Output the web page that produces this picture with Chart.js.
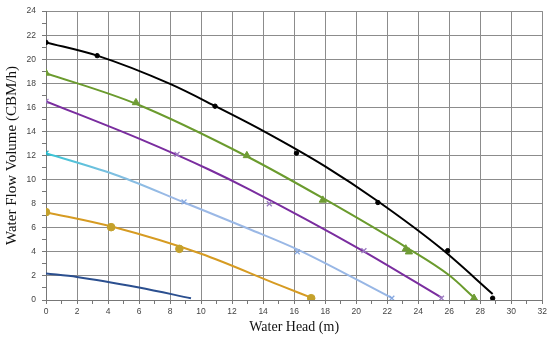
<!DOCTYPE html>
<html>
<head>
<meta charset="utf-8">
<script src="https://cdn.jsdelivr.net/npm/chart.js@4/dist/chart.umd.min.js"></script>
<style>
  html, body { margin: 0; padding: 0; background: #fff; }
  #wrap { width: 550px; height: 339px; }
</style>
</head>
<body>
<div id="wrap"><canvas id="c" width="550" height="339"></canvas></div>
<script>
// ---- Data (x = water head m, y = flow CBM/h) ----
const curveBlack  = [[0,21.4],[3.3,20.3],[8,17.95],[11,16.05],[14,14.05],[18,11.1],[21.4,8.2],[25.5,4.25],[28.8,0.5]];
const curveGreen  = [[0,18.85],[5.8,16.3],[13,11.9],[18,8.35],[23.2,4.4],[26,2.05],[27.6,0.2]];
const curvePurple = [[0,16.5],[6,13.4],[10.5,10.84],[13.1,9.19],[20.2,4.25],[25.5,0.2]];
const curveCyan   = [[0,12.2],[4.7,10.3],[8.9,8.1],[13.1,5.9],[16.3,4.15],[22.25,0.2]];
const curveOrange = [[0,7.3],[4.23,6.1],[10,3.84],[15.05,1.23],[17.1,0.2]];
const curveNavy   = [[0,2.2],[2,1.92],[6,1.04],[9.35,0.14]];

const markBlack  = [[0,21.4],[3.3,20.3],[10.9,16.1],[16.15,12.2],[21.4,8.1],[25.9,4.1],[28.8,0.15]];
const markGreen  = [[0,18.85],[5.8,16.4],[12.95,12.0],[17.85,8.3],[23.2,4.25],[23.4,4.0],[27.6,0.15]];
const markPurple = [[0,16.5],[8.45,12.1],[14.4,8.0],[20.5,4.1],[25.5,0.15]];
const markCyan   = [[0,12.2],[8.9,8.15],[16.2,4.0],[22.3,0.15]];
const markOrange = [[0,7.3],[4.2,6.05],[8.6,4.25],[17.1,0.15]];

const xTicks = { min: 0, max: 32, major: 2 };
const yTicks = { min: 0, max: 24, major: 2 };
const xTitle = 'Water Head (m)';
const yTitle = 'Water Flow Volume (CBM/h)';

const toXY = arr => arr.map(p => ({ x: p[0], y: p[1] }));

function curve(data, color, width) {
  return { data: toXY(data), showLine: true, borderColor: color, borderWidth: width || 2,
           pointRadius: 0, pointHoverRadius: 0, fill: false, cubicInterpolationMode: 'monotone', order: 2 };
}
function marks(data, style, color, radius, bw) {
  return { data: toXY(data), showLine: false, pointStyle: style, pointRadius: radius,
           pointBackgroundColor: color, pointBorderColor: color, pointBorderWidth: bw || 1, order: 1 };
}

function cyanGradient(ctx) {
  const chart = ctx.chart; const area = chart.chartArea;
  if (!area) return '#7fb8e0';
  const g = chart.ctx.createLinearGradient(area.left, 0, area.right, 0);
  g.addColorStop(0, '#35c4d4');
  g.addColorStop(0.12, '#78c0e0');
  g.addColorStop(0.25, '#9cb9e6');
  g.addColorStop(1, '#93b4e4');
  return g;
}

const gridCol = '#8c8c8c';
function axis(cfg, title, isX) {
  return {
    type: 'linear', min: cfg.min, max: cfg.max,
    afterFit: s => { if (isX) s.height = 39; else s.width = 46; },
    ticks: { stepSize: 1, autoSkip: false, maxRotation: 0, padding: isX ? 3 : 6,
             color: '#444', font: { family: 'Liberation Sans', size: 8.5 },
             callback: v => (v % cfg.major === 0 ? String(v) : '') },
    grid: { color: c => (c.tick && c.tick.value % cfg.major === 0 ? gridCol : 'rgba(0,0,0,0)'),
            tickColor: '#777', tickLength: 4, lineWidth: 1 },
    border: { color: '#777', width: 1 },
    title: { display: true, text: title, color: '#111',
             font: { family: 'Liberation Serif', size: isX ? 14 : 15 },
             padding: isX ? { top: 0, bottom: 3 } : { top: 3, bottom: 2 } }
  };
}

new Chart(document.getElementById('c'), {
  type: 'scatter',
  data: { datasets: [
    curve(curveBlack, '#000000', 2),
    curve(curveGreen, '#6b9b2e', 2),
    curve(curvePurple, '#7a2d9f', 2),
    Object.assign(curve(curveCyan, '#7fb8e0', 2), { borderColor: cyanGradient }),
    curve(curveOrange, '#d69b22', 2),
    curve(curveNavy, '#2b4f8f', 2),
    marks(markBlack, 'circle', '#000000', 2.2),
    marks(markGreen, 'triangle', '#6f9c34', 4.2),
    marks(markPurple, 'crossRot', '#9a78c0', 3.5, 1.3),
    marks(markCyan, 'crossRot', ['#20b8cc', '#86a8e0', '#86a8e0', '#86a8e0'], 3.5, 1.3),
    marks(markOrange, 'circle', '#c4a12c', 3.8)
  ] },
  options: {
    responsive: false, animation: false, events: [],
    layout: { padding: { top: 8, right: 7, left: 0, bottom: 0 } },
    plugins: { legend: { display: false }, tooltip: { enabled: false } },
    scales: { x: axis(xTicks, xTitle, true), y: axis(yTicks, yTitle, false) }
  }
});
</script>
</body>
</html>
